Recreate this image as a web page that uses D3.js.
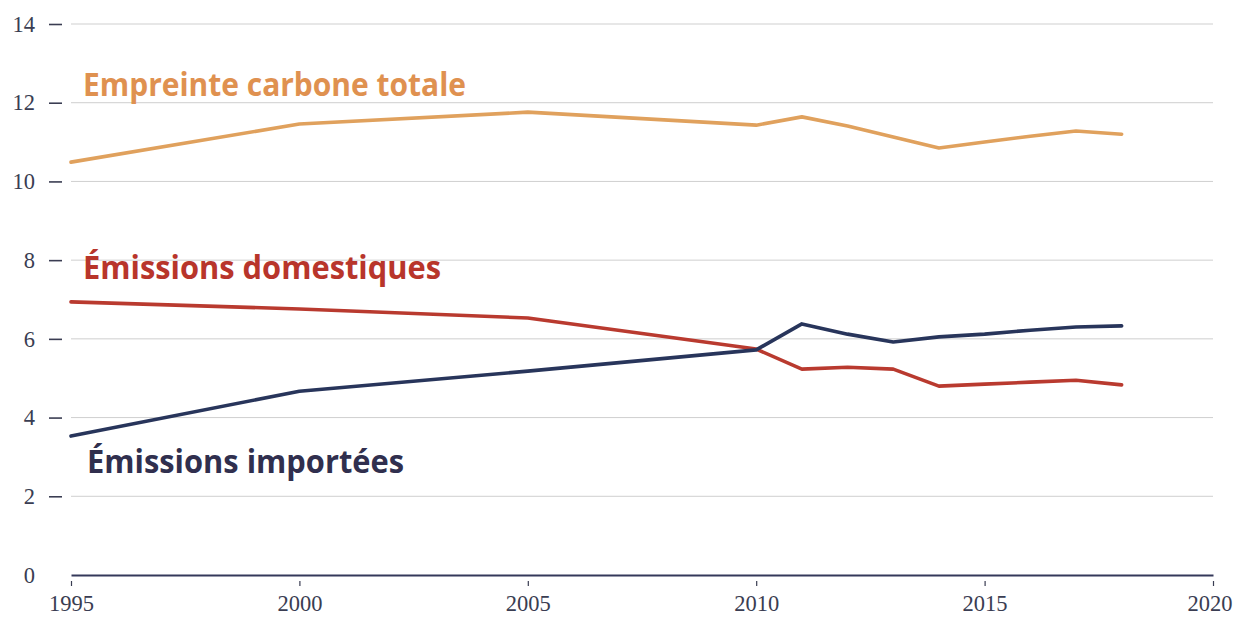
<!DOCTYPE html>
<html>
<head>
<meta charset="utf-8">
<script src="https://cdn.jsdelivr.net/npm/d3@7"></script>
<style>
  body { margin: 0; background: #fff; }
  svg { display: block; }
</style>
</head>
<body>
<div class="chart-box"></div>
<script>
const years = [1995, 2000, 2005, 2010, 2011, 2012, 2013, 2014, 2015, 2016, 2017, 2018];
const totale = [10.49, 11.46, 11.76, 11.43, 11.64, 11.41, 11.13, 10.85, 11.0, 11.15, 11.28, 11.2];
const domestiques = [6.94, 6.76, 6.53, 5.74, 5.23, 5.28, 5.23, 4.80, 4.85, 4.90, 4.95, 4.83];
const importees = [3.53, 4.67, 5.18, 5.72, 6.38, 6.12, 5.92, 6.05, 6.12, 6.22, 6.30, 6.33];
const yTicks = [0, 2, 4, 6, 8, 10, 12, 14];
const xTicks = [1995, 2000, 2005, 2010, 2015, 2020];

const width = 1233, height = 617;

const svg = d3.select(".chart-box")
  .append("svg")
  .attr("width", width)
  .attr("height", height);

const x = d3.scaleLinear().domain([1995, 2020]).range([71, 1213]);
const y = d3.scaleLinear().domain([0, 14]).range([575, 24]);

// gridlines
svg.append("g")
  .selectAll("line")
  .data(yTicks.filter(d => d > 0))
  .join("line")
  .attr("x1", x(1995))
  .attr("x2", x(2020))
  .attr("y1", d => y(d))
  .attr("y2", d => y(d))
  .attr("stroke", "#cfcfcf")
  .attr("stroke-width", 1);

// y axis: labels with a dash
const yAxis = svg.append("g")
  .attr("transform", "translate(62,0)")
  .call(d3.axisLeft(y).tickValues(yTicks).tickSize(13).tickPadding(14).tickFormat(d3.format("d")));
yAxis.select(".domain").remove();
yAxis.selectAll(".tick line")
  .attr("stroke", "#3a3d52")
  .attr("stroke-width", 1.6)
  .attr("stroke-opacity", d => d === 0 ? 0 : 1);
yAxis.selectAll(".tick text")
  .attr("fill", "#3a3d52")
  .style("font-family", "'Liberation Serif', serif")
  .style("font-size", "22.5px");

// x axis
const xAxis = svg.append("g")
  .attr("transform", "translate(0," + y(0) + ")")
  .call(d3.axisBottom(x).tickValues(xTicks).tickSize(0).tickPadding(20).tickFormat(d3.format("d")));
xAxis.select(".domain")
  .attr("stroke", "#34395a")
  .attr("stroke-width", 2);
xAxis.selectAll(".tick text")
  .attr("fill", "#3a3d52")
  .style("font-family", "'Liberation Serif', serif")
  .style("font-size", "22.5px");
// last label would run past the right edge
xAxis.selectAll(".tick text")
  .filter(d => d === 2020)
  .attr("text-anchor", "end")
  .attr("x", width - 1 - x(2020));
xAxis.selectAll(".tick")
  .append("line")
  .attr("y1", 6)
  .attr("y2", 11)
  .attr("stroke", "#3a3d52")
  .attr("stroke-width", 1.2);

const line = d3.line()
  .x((d, i) => x(years[i]))
  .y(d => y(d));

const series = [
  {values: totale, color: "#e0a15d"},
  {values: domestiques, color: "#b93a2f"},
  {values: importees, color: "#28355b"}
];

svg.append("g")
  .selectAll("path")
  .data(series)
  .join("path")
  .attr("d", s => line(s.values))
  .attr("fill", "none")
  .attr("stroke", s => s.color)
  .attr("stroke-width", 3.6)
  .attr("stroke-linejoin", "round")
  .attr("stroke-linecap", "round");

// series labels
const labels = [
  {text: "Empreinte carbone totale", x: 83, y: 96, len: 383, color: "#df9150"},
  {text: "Émissions domestiques", x: 83, y: 279, len: 358, color: "#b8352b"},
  {text: "Émissions importées", x: 87, y: 473, len: 317, color: "#302f4e"}
];

svg.append("g")
  .selectAll("text")
  .data(labels)
  .join("text")
  .attr("x", d => d.x)
  .attr("y", d => d.y)
  .attr("fill", d => d.color)
  .attr("textLength", d => d.len)
  .attr("lengthAdjust", "spacingAndGlyphs")
  .style("font-family", "'Open Sans', sans-serif")
  .style("font-weight", "bold")
  .style("font-size", "32px")
  .text(d => d.text);
</script>
</body>
</html>
